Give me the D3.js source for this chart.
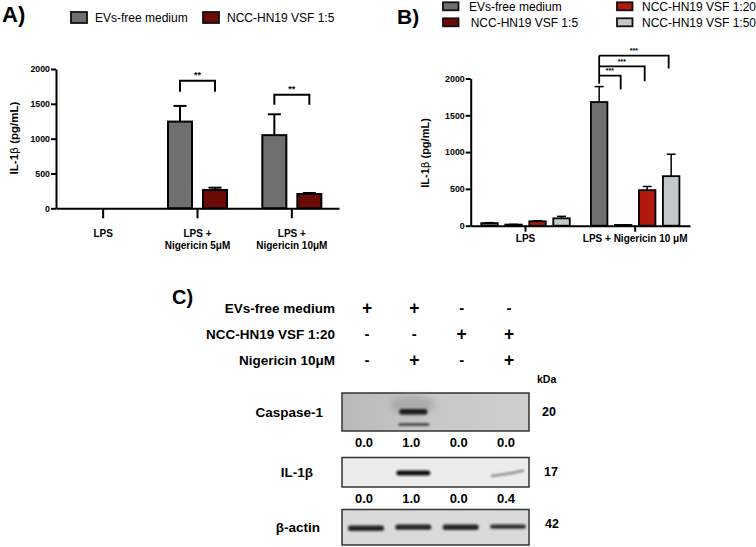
<!DOCTYPE html>
<html><head><meta charset="utf-8">
<script src="https://cdn.jsdelivr.net/npm/d3@7"></script>
<style>
body{margin:0;background:#fff}
svg{display:block}
text{font-family:"Liberation Sans",Arial,Helvetica,sans-serif;fill:#000}
</style>
</head><body>
<svg id="c" width="756" height="547"></svg>
<script>
// ---------- Panel A data ----------
const categoriesA = ["LPS", "LPS +|Nigericin 5μM", "LPS +|Nigericin 10μM"];
const seriesA = ["EVs-free medium", "NCC-HN19 VSF 1:5"];
const evFreeA = [null, 1245, 1050];
const evFreeA_sd = [null, 225, 300];
const vsf5A = [null, 263, 205];
const vsf5A_sd = [null, 33, 15];
const ticksA = [0, 500, 1000, 1500, 2000];
const colorsA = ["#6f6f6f", "#6c0b05"];

// ---------- Panel B data ----------
const categoriesB = ["LPS", "LPS + Nigericin 10 μM"];
const seriesB = ["EVs-free medium", "NCC-HN19 VSF 1:5", "NCC-HN19 VSF 1:20", "NCC-HN19 VSF 1:50"];
const evFreeB = [35, 1680];
const evFreeB_sd = [6, 210];
const vsf5B = [15, 10];
const vsf5B_sd = [3, 3];
const vsf20B = [60, 483];
const vsf20B_sd = [8, 50];
const vsf50B = [100, 673];
const vsf50B_sd = [27, 298];
const ticksB = [0, 500, 1000, 1500, 2000];
const colorsB = ["#6f6f6f", "#6c0b05", "#b0190b", "#c2c9cc"];

// ---------- Panel C data ----------
const lanes = ["1", "2", "3", "4"];
const evFreeC = ["+", "+", "-", "-"];
const vsf20C = ["-", "-", "+", "+"];
const nigericinC = ["-", "+", "-", "+"];
const caspaseQuant = ["0.0", "1.0", "0.0", "0.0"];
const il1bQuant = ["0.0", "1.0", "0.0", "0.4"];
const caspaseBand = [0, 1, 0, 0];
const il1bBand = [0, 1, 0, 0.4];
const actinBand = [1, 0.95, 1, 0.75];

const svg = d3.select("#c");
const defs = svg.append("defs");
defs.append("filter").attr("id", "blur").attr("x", "-50%").attr("y", "-100%").attr("width", "200%").attr("height", "300%")
  .append("feGaussianBlur").attr("stdDeviation", 1.3);
defs.append("filter").attr("id", "blur2").attr("x", "-50%").attr("y", "-100%").attr("width", "200%").attr("height", "300%")
  .append("feGaussianBlur").attr("stdDeviation", 3.5);
const grad = defs.append("linearGradient").attr("id", "casgrad").attr("x1", 0).attr("x2", 1);
grad.append("stop").attr("offset", 0).attr("stop-color", "#b9b9b9");
grad.append("stop").attr("offset", 0.4).attr("stop-color", "#c6c6c6");
grad.append("stop").attr("offset", 1).attr("stop-color", "#cfcfcf");

function panelLabel(t, x, y, size) {
  svg.append("text").attr("x", x).attr("y", y).attr("font-size", size).attr("font-weight", "bold").text(t);
}
function yLabel(g, x, y, size) {
  const t = g.append("text").attr("transform", `translate(${x},${y}) rotate(-90)`)
    .attr("text-anchor", "middle").attr("font-size", size).attr("font-weight", "bold");
  t.append("tspan").text("IL-1");
  t.append("tspan").attr("font-weight", "normal").attr("font-family", "DejaVu Sans").attr("font-size", size * 0.95).text("β");
  t.append("tspan").text(" (pg/mL)");
}
function styleAxis(a) {
  a.select(".domain").attr("stroke", "#000").attr("stroke-width", 2);
  a.selectAll(".tick line").attr("stroke", "#000").attr("stroke-width", 2);
}

// ================= Panel A =================
panelLabel("A)", 2, 22, 22);
{
  const g = svg.append("g");
  const x = d3.scaleBand().domain(categoriesA).range([56, 339]);
  const y = d3.scaleLinear().domain([0, 2000]).range([208.3, 69]);
  const sub = d3.scalePoint().domain(seriesA).range([-17.5, 17.5]);
  const bw = 24;
  const vals = [evFreeA, vsf5A], sds = [evFreeA_sd, vsf5A_sd];

  seriesA.forEach((s, si) => {
    categoriesA.forEach((c, ci) => {
      const v = vals[si][ci];
      if (v == null) return;
      const cx = x(c) + x.bandwidth() / 2 + sub(s);
      const top = y(v + sds[si][ci]);
      g.append("line").attr("x1", cx).attr("x2", cx).attr("y1", y(v)).attr("y2", top).attr("stroke", "#000").attr("stroke-width", 2);
      g.append("line").attr("x1", cx - 6.5).attr("x2", cx + 6.5).attr("y1", top).attr("y2", top).attr("stroke", "#000").attr("stroke-width", 2);
      g.append("rect").attr("x", cx - bw / 2).attr("y", y(v)).attr("width", bw).attr("height", y(0) - y(v))
        .attr("fill", colorsA[si]).attr("stroke", "#000").attr("stroke-width", 2);
    });
  });

  const ya = g.append("g").attr("transform", "translate(56,0)")
    .call(d3.axisLeft(y).tickValues(ticksA).tickSize(5).tickSizeOuter(0).tickPadding(1).tickFormat(d3.format("d")));
  styleAxis(ya);
  ya.selectAll("text").attr("font-size", 8.8).attr("font-weight", "bold");

  const xa = g.append("g").attr("transform", "translate(0,208.3)")
    .call(d3.axisBottom(x).tickSize(10).tickSizeOuter(0).tickFormat(""));
  styleAxis(xa);
  categoriesA.forEach(c => {
    const lines = c.split("|");
    const t = g.append("text").attr("x", x(c) + x.bandwidth() / 2).attr("y", 236.5)
      .attr("text-anchor", "middle").attr("font-size", 10).attr("font-weight", "bold");
    lines.forEach((l, i) => t.append("tspan").attr("x", x(c) + x.bandwidth() / 2).attr("dy", i ? 12.5 : 0).text(l));
  });

  yLabel(g, 17.5, 138, 11.5);

  // significance brackets
  const bracketsA = [{ci: 1, top: 1832, leg: 1673, label: "**"}, {ci: 2, top: 1630, leg: 1486, label: "**"}];
  bracketsA.forEach(b => {
    const c = categoriesA[b.ci];
    const x1 = x(c) + x.bandwidth() / 2 + sub(seriesA[0]);
    const x2 = x(c) + x.bandwidth() / 2 + sub(seriesA[1]);
    g.append("path").attr("d", `M${x1},${y(b.leg)}V${y(b.top)}H${x2}V${y(b.leg)}`)
      .attr("fill", "none").attr("stroke", "#000").attr("stroke-width", 2);
    g.append("text").attr("x", (x1 + x2) / 2).attr("y", y(b.top) - 3).attr("text-anchor", "middle")
      .attr("font-size", 9).attr("font-weight", "bold").text(b.label);
  });

  // legend
  seriesA.forEach((s, i) => {
    const lx = [71, 203][i];
    g.append("rect").attr("x", lx).attr("y", 12).attr("width", 16).attr("height", 11)
      .attr("fill", colorsA[i]).attr("stroke", "#111").attr("stroke-width", 1.8);
    g.append("text").attr("x", lx + 24).attr("y", 17.8).attr("dy", "0.35em").attr("font-size", 12).text(s);
  });
}

// ================= Panel B =================
panelLabel("B)", 397, 24, 21);
{
  const g = svg.append("g");
  const x = d3.scaleBand().domain(categoriesB).range([470.7, 690]);
  const y = d3.scaleLinear().domain([0, 2000]).range([225.7, 78.5]);
  const sub = d3.scalePoint().domain(seriesB).range([-36, 36]);
  const bw = 16.5;
  const vals = [evFreeB, vsf5B, vsf20B, vsf50B], sds = [evFreeB_sd, vsf5B_sd, vsf20B_sd, vsf50B_sd];

  seriesB.forEach((s, si) => {
    categoriesB.forEach((c, ci) => {
      const v = vals[si][ci];
      const cx = x(c) + x.bandwidth() / 2 + sub(s);
      const top = y(v + sds[si][ci]);
      g.append("line").attr("x1", cx).attr("x2", cx).attr("y1", y(v)).attr("y2", top).attr("stroke", "#000").attr("stroke-width", 1.5);
      g.append("line").attr("x1", cx - 4.5).attr("x2", cx + 4.5).attr("y1", top).attr("y2", top).attr("stroke", "#000").attr("stroke-width", 1.5);
      g.append("rect").attr("x", cx - bw / 2).attr("y", y(v)).attr("width", bw).attr("height", y(0) - y(v))
        .attr("fill", colorsB[si]).attr("stroke", "#000").attr("stroke-width", 1.8);
    });
  });

  const ya = g.append("g").attr("transform", "translate(470.7,0)")
    .call(d3.axisLeft(y).tickValues(ticksB).tickSize(5).tickSizeOuter(0).tickPadding(1).tickFormat(d3.format("d")));
  styleAxis(ya);
  ya.selectAll("text").attr("font-size", 8.8).attr("font-weight", "bold");

  const xa = g.append("g").attr("transform", "translate(0,225.7)")
    .call(d3.axisBottom(x).tickSize(6).tickSizeOuter(0).tickFormat(""));
  styleAxis(xa);
  categoriesB.forEach(c => {
    g.append("text").attr("x", x(c) + x.bandwidth() / 2).attr("y", 241.5)
      .attr("text-anchor", "middle").attr("font-size", 10).attr("font-weight", "bold").text(c);
  });

  yLabel(g, 429, 153, 11);

  // brackets from EVs-free (group 2) to each VSF dilution
  const bracketsB = [{si: 1, top: 2040, leg: 1851}, {si: 2, top: 2166, leg: 1963}, {si: 3, top: 2311, leg: 2135}];
  const c2 = categoriesB[1];
  const xl = x(c2) + x.bandwidth() / 2 + sub(seriesB[0]);
  g.append("line").attr("x1", xl).attr("x2", xl).attr("y1", y(2311)).attr("y2", y(1930))
    .attr("stroke", "#000").attr("stroke-width", 1.8);
  bracketsB.forEach(b => {
    const xr = x(c2) + x.bandwidth() / 2 + sub(seriesB[b.si]) - 2.5;
    g.append("path").attr("d", `M${xl},${y(b.top)}H${xr}V${y(b.leg)}`)
      .attr("fill", "none").attr("stroke", "#000").attr("stroke-width", 1.8);
    g.append("text").attr("x", (xl + xr) / 2).attr("y", y(b.top) - 2.5).attr("text-anchor", "middle")
      .attr("font-size", 7).attr("font-weight", "bold").attr("fill", "#333").text("***");
  });

  // legend
  seriesB.forEach((s, i) => {
    const col = (i === 0 || i === 1) ? 0 : 1;
    const row = (i === 0 || i === 2) ? 0 : 1;
    const lx = col ? 617 : 443;
    const ly = row ? 18.3 : 2.3;
    g.append("rect").attr("x", lx).attr("y", ly).attr("width", 15.5).attr("height", 8)
      .attr("fill", colorsB[i]).attr("stroke", "#111").attr("stroke-width", 1.8);
    g.append("text").attr("x", col ? 642 : (row ? 470.7 : 469)).attr("y", ly + 4.3).attr("dy", "0.35em")
      .attr("font-size", 12).text(s);
  });
}

// ================= Panel C =================
panelLabel("C)", 172, 304, 20);
{
  const g = svg.append("g");
  const lane = d3.scalePoint().domain(lanes).range([366, 508]);
  const rows = [
    {label: "EVs-free medium", y: 308, vals: evFreeC},
    {label: "NCC-HN19 VSF 1:20", y: 334, vals: vsf20C},
    {label: "Nigericin 10μM", y: 360, vals: nigericinC}
  ];
  rows.forEach(r => {
    g.append("text").attr("x", 335).attr("y", r.y).attr("dy", "0.35em").attr("text-anchor", "end")
      .attr("font-size", 13.5).attr("font-weight", "bold").text(r.label);
    r.vals.forEach((v, i) => {
      g.append("text").attr("x", lane(lanes[i]) + 1).attr("y", r.y).attr("dy", v === "+" ? "0.33em" : "0.35em").attr("text-anchor", "middle")
        .attr("font-size", v === "+" ? 17.5 : 15).attr("font-weight", "bold").text(v);
    });
  });
  g.append("text").attr("x", 537).attr("y", 379).attr("dy", "0.35em").attr("font-size", 10.5).attr("font-weight", "bold").text("kDa");

  const blots = [
    {label: "Caspase-1", lx: 323, y0: 393, y1: 431, bg: "url(#casgrad)", kda: "20", ky: 412, kx: 542},
    {label: "IL-1β", lx: 313, y0: 457.5, y1: 487, bg: "#ececec", kda: "17", ky: 472, kx: 544},
    {label: "β-actin", lx: 320, y0: 509.5, y1: 545, bg: "#dadada", kda: "42", ky: 524, kx: 545}
  ];
  blots.forEach(b => {
    g.append("rect").attr("x", 342).attr("y", b.y0).attr("width", 187).attr("height", b.y1 - b.y0)
      .attr("fill", b.bg).attr("stroke", "#333").attr("stroke-width", 1.5);
    g.append("text").attr("x", b.lx).attr("y", (b.y0 + b.y1) / 2 + 0.5).attr("dy", "0.35em").attr("text-anchor", "end")
      .attr("font-size", 13.5).attr("font-weight", "bold").text(b.label);
    g.append("text").attr("x", b.kx).attr("y", b.ky).attr("dy", "0.35em")
      .attr("font-size", 12.5).attr("font-weight", "bold").text(b.kda);
  });

  // Caspase-1 bands (p20 doublet with diffuse smear)
  caspaseBand.forEach((v, i) => {
    if (!v) return;
    const cx = lane(lanes[i]);
    g.append("ellipse").attr("cx", cx - 1).attr("cy", 405).attr("rx", 22 * v).attr("ry", 10)
      .attr("fill", "#8a8a8a").attr("opacity", 0.45).attr("filter", "url(#blur2)");
    g.append("rect").attr("x", cx - 14).attr("y", 409).attr("width", 28 * v).attr("height", 5.5).attr("rx", 2.5)
      .attr("fill", "#1a1a1a").attr("filter", "url(#blur)");
    g.append("rect").attr("x", cx - 15).attr("y", 423).attr("width", 31 * v).attr("height", 3).attr("rx", 1.5)
      .attr("fill", "#3a3a3a").attr("opacity", 0.85).attr("filter", "url(#blur)");
  });
  // IL-1β bands
  il1bBand.forEach((v, i) => {
    if (!v) return;
    const cx = lane(lanes[i]);
    if (v >= 1) {
      g.append("rect").attr("x", cx - 17).attr("y", 470.5).attr("width", 34).attr("height", 5).attr("rx", 2.5)
        .attr("fill", "#111").attr("filter", "url(#blur)");
    } else {
      g.append("path").attr("d", `M${cx - 17},${476}Q${cx},${474} ${cx + 16},${470.5}`)
        .attr("fill", "none").attr("stroke", "#555").attr("stroke-width", 2.5).attr("opacity", v * 1.5)
        .attr("filter", "url(#blur)");
    }
  });
  // quantification rows
  [[caspaseQuant, 442], [il1bQuant, 498]].forEach(([arr, yy]) => {
    arr.forEach((t, i) => {
      g.append("text").attr("x", lane(lanes[i]) - 2).attr("y", yy).attr("dy", "0.35em").attr("text-anchor", "middle")
        .attr("font-size", 13).attr("font-weight", "bold").text(t);
    });
  });
  // β-actin bands
  actinBand.forEach((v, i) => {
    const cx = lane(lanes[i]);
    g.append("rect").attr("x", cx - 18).attr("y", 524.5 + (i === 0 ? 1 : 0)).attr("width", 36).attr("height", 5 * v + 0.5).attr("rx", 2.5)
      .attr("fill", "#1c1c1c").attr("opacity", 0.75 + 0.2 * v).attr("filter", "url(#blur)");
  });
}
</script>
</body></html>
